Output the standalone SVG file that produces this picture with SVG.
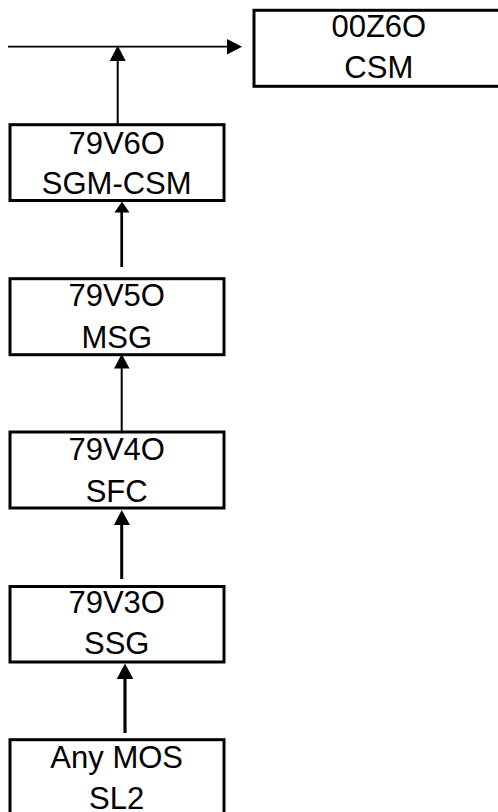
<svg xmlns="http://www.w3.org/2000/svg" width="498" height="812" viewBox="0 0 498 812">
<style>
.box{fill:#fff;stroke:#000;stroke-width:3}
.t{font-family:"Liberation Sans",Arial,sans-serif;font-size:31px;fill:#000;text-anchor:middle}
.ln{stroke:#000;fill:none}
.ah{fill:#000}
</style>
<rect width="498" height="812" fill="#fff"/>
<g id="connectors">
<line class="ln" x1="8" y1="46.7" x2="229" y2="46.7" stroke-width="1.8"/>
<polygon class="ah" points="242,46.7 227,39 227,54.5"/>
<line class="ln" x1="117.7" y1="124" x2="117.7" y2="58" stroke-width="2"/>
<polygon class="ah" points="117.7,45.5 109.7,61 125.7,61"/>
<line class="ln" x1="121.7" y1="267" x2="121.7" y2="210" stroke-width="2.7"/>
<polygon class="ah" points="122,201.5 114.5,212.5 129.5,212.5"/>
<line class="ln" x1="121.7" y1="431" x2="121.7" y2="366" stroke-width="2"/>
<polygon class="ah" points="121.7,354 114,368.5 129.5,368.5"/>
<line class="ln" x1="121.7" y1="579" x2="121.7" y2="522" stroke-width="3"/>
<polygon class="ah" points="121.7,510 114,525 130,525"/>
<line class="ln" x1="125" y1="733" x2="125" y2="676" stroke-width="3.2"/>
<polygon class="ah" points="125,663.5 116.7,679 133.3,679"/>
</g>
<g id="n00Z6O">
<rect class="box" x="254" y="10.3" width="250" height="76"/>
<text class="t" x="378.8" y="36.7">00Z6O</text>
<text class="t" x="378.8" y="77.7">CSM</text>
</g>
<g id="n79V6O">
<rect class="box" x="10" y="124.7" width="214" height="75.8"/>
<text class="t" x="116.7" y="153.5">79V6O</text>
<text class="t" x="116.7" y="194">SGM-CSM</text>
</g>
<g id="n79V5O">
<rect class="box" x="10" y="278.7" width="214" height="76"/>
<text class="t" x="116.7" y="306">79V5O</text>
<text class="t" x="116.7" y="347.7">MSG</text>
</g>
<g id="n79V4O">
<rect class="box" x="10" y="432" width="214" height="76"/>
<text class="t" x="116.7" y="460">79V4O</text>
<text class="t" x="116.7" y="501.5">SFC</text>
</g>
<g id="n79V3O">
<rect class="box" x="10" y="586.5" width="214" height="75.5"/>
<text class="t" x="116.7" y="613">79V3O</text>
<text class="t" x="116.7" y="654">SSG</text>
</g>
<g id="nAnyMOS">
<rect class="box" x="10" y="739.7" width="214" height="76"/>
<text class="t" x="116.7" y="768.3">Any MOS</text>
<text class="t" x="116.7" y="809">SL2</text>
</g>
</svg>
